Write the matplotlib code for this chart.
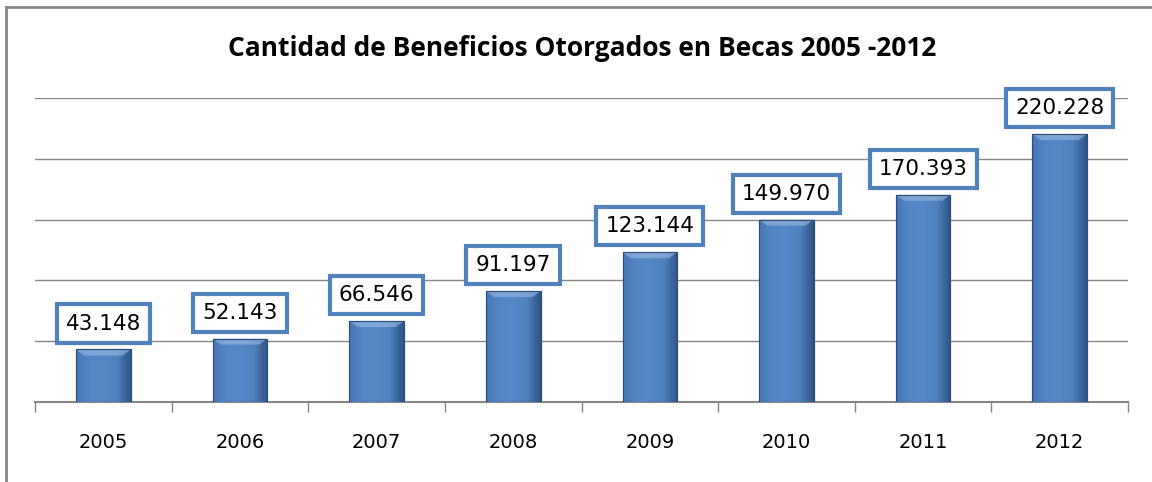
import matplotlib.pyplot as plt
import numpy as np
from matplotlib.colors import LinearSegmentedColormap

# Datos
anios = ["2005", "2006", "2007", "2008", "2009", "2010", "2011", "2012"]
becas = [43148, 52143, 66546, 91197, 123144, 149970, 170393, 220228]
etiquetas = ["43.148", "52.143", "66.546", "91.197", "123.144", "149.970", "170.393", "220.228"]

azul = "#4F81BD"
gris = "#868686"

fig = plt.figure(figsize=(11.52, 4.82), dpi=100)
ax = fig.add_axes([0.0304, 0.166, 0.9488, 0.631])

x = np.arange(len(anios))
barras = ax.bar(x, becas, width=0.4, color=azul, edgecolor="#2C4D75", linewidth=0.8, zorder=3)

# degradado horizontal dentro de cada barra
cmap = LinearSegmentedColormap.from_list("bisel", ["#4676B4", "#5486C6", "#5687C7", "#4F81BD", "#2E5587"])
grad = np.linspace(0, 1, 64).reshape(1, -1)
for b in barras:
    x0, w, h = b.get_x(), b.get_width(), b.get_height()
    im = ax.imshow(grad, extent=[x0, x0 + w, 0, h], aspect="auto", cmap=cmap, zorder=3.5)
    im.set_clip_path(b)
    # brillo superior (bisel)
    ax.fill([x0, x0 + w, x0 + w * 0.85, x0 + w * 0.15], [h, h, h - 5000, h - 5000],
            color="#9BBBE3", alpha=0.6, zorder=3.6, linewidth=0)
    ax.add_patch(plt.Rectangle((x0, 0), w, h, fill=False, edgecolor="#2C4D75", linewidth=0.8, zorder=3.7))

for xi, v, t in zip(x, becas, etiquetas):
    ax.annotate(t, (xi, v), xytext=(0, 11.5), textcoords="offset points", ha="center", va="bottom",
                fontsize=15.5, family="DejaVu Sans", color="black", zorder=6, annotation_clip=False,
                bbox=dict(boxstyle="square,pad=0.42", facecolor="white", edgecolor=azul, linewidth=3))

ax.set_xlim(-0.5, len(anios) - 0.5)
ax.set_ylim(0, 250000)
ax.set_yticks(np.arange(50000, 250001, 50000))
ax.yaxis.grid(True, color=gris, linewidth=1)
ax.tick_params(axis="y", left=False, labelleft=False)
ax.set_axisbelow(True)

ax.set_xticks(np.arange(-0.5, len(anios)), minor=False)
ax.set_xticklabels([])
ax.set_xticks(x, minor=True)
ax.set_xticklabels(anios, minor=True, fontsize=14, family="DejaVu Sans")
ax.tick_params(axis="x", which="major", length=7, width=1, color=gris, direction="out")
ax.tick_params(axis="x", which="minor", length=0, pad=22)

for s in ["top", "right", "left"]:
    ax.spines[s].set_visible(False)
ax.spines["bottom"].set_color(gris)
ax.spines["bottom"].set_linewidth(1.5)

fig.text(0.505, 0.9, "Cantidad de Beneficios Otorgados en Becas 2005 -2012", ha="center", va="center",
         fontsize=19, fontweight="bold", family="Open Sans")

# marco exterior
fig.add_artist(plt.Line2D([6 / 1152, 6 / 1152], [0, 1 - 7 / 482], color=gris, linewidth=2))
fig.add_artist(plt.Line2D([6 / 1152, 1], [1 - 7 / 482, 1 - 7 / 482], color=gris, linewidth=2))

fig.savefig("out.png", dpi=100)
